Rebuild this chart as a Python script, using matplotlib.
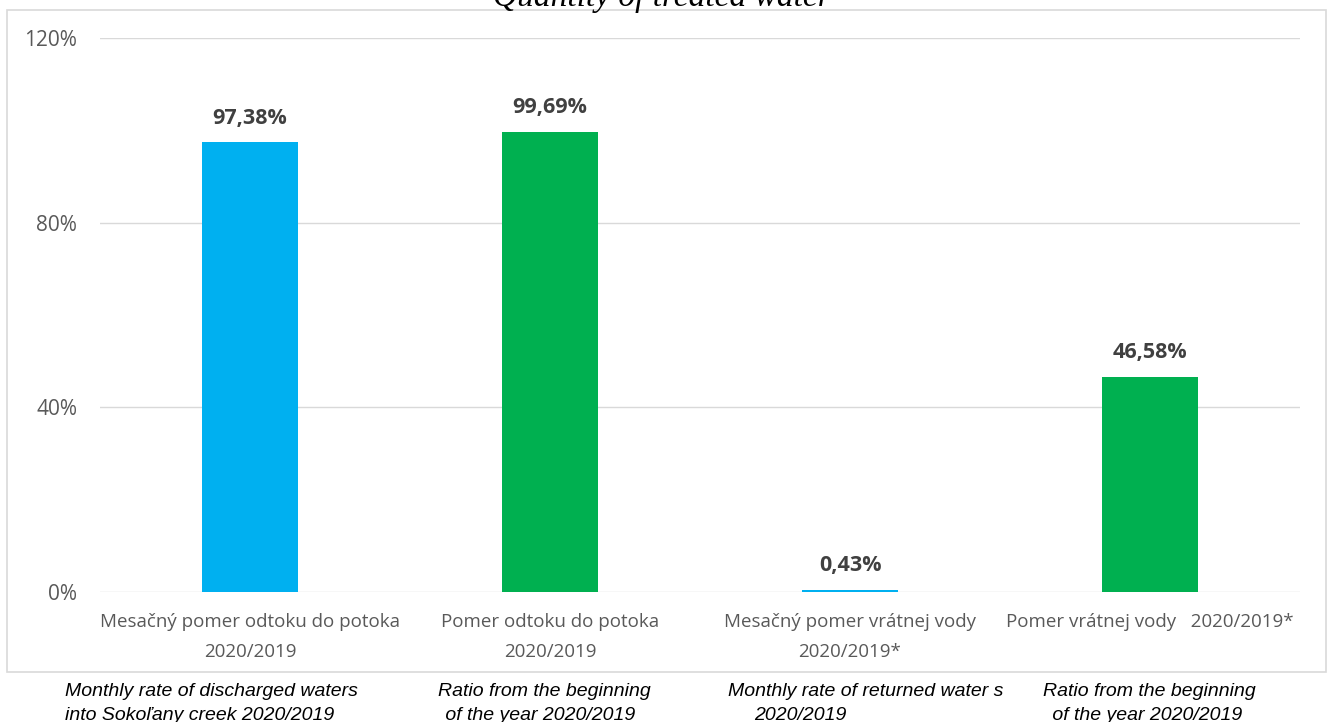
import matplotlib.pyplot as plt
from matplotlib.patches import Rectangle
from matplotlib.ticker import FuncFormatter

# data
categories = ["Mesačný pomer odtoku do potoka\n2020/2019",
              "Pomer odtoku do potoka\n2020/2019",
              "Mesačný pomer vrátnej vody\n2020/2019*",
              "Pomer vrátnej vody   2020/2019*"]
values = [97.38, 99.69, 0.43, 46.58]
value_labels = ["97,38%", "99,69%", "0,43%", "46,58%"]
bar_colors = ["#00B0F0", "#00B050", "#00B0F0", "#00B050"]
y_ticks = [0, 40, 80, 120]
captions = [
    ("Monthly rate of discharged waters", "into Sokoľany creek 2020/2019"),
    ("Ratio from the beginning", " of the year 2020/2019"),
    ("Monthly rate of returned water s", "2020/2019"),
    ("Ratio from the beginning", " of the year 2020/2019"),
]
title = "Quantity of treated water"

W, H = 1331, 722
fig = plt.figure(figsize=(W / 100, H / 100), dpi=100)
fig.patch.set_facecolor("white")

# outer chart border
fig.patches.append(Rectangle((7 / W, 1 - 672 / H), (1326 - 7) / W, (672 - 10) / H,
                             transform=fig.transFigure, fill=False,
                             edgecolor="#D9D9D9", linewidth=1.2))

ax = fig.add_axes([100 / W, 1 - 592 / H, 1200 / W, (592 - 38) / H])
x = list(range(len(categories)))
ax.bar(x, values, width=0.317, color=bar_colors, zorder=3)
ax.set_xlim(-0.5, len(categories) - 0.5)
ax.set_ylim(0, 120)
ax.set_yticks(y_ticks)
ax.yaxis.set_major_formatter(FuncFormatter(lambda v, p: f"{v:.0f}%"))
ax.grid(axis="y", color="#D9D9D9", linewidth=1, zorder=0)
ax.set_axisbelow(True)
for s in ax.spines.values():
    s.set_visible(False)
ax.tick_params(length=0)
ax.tick_params(axis="y", pad=16.5, labelsize=15, labelcolor="#595959")
ax.set_xticks(x)
ax.set_xticklabels(categories, fontsize=13.5, color="#595959", linespacing=1.85)
ax.tick_params(axis="x", pad=15)
for lab in ax.get_xticklabels() + ax.get_yticklabels():
    lab.set_family("Open Sans")

for xi, v, lbl in zip(x, values, value_labels):
    ax.annotate(lbl, (xi, v), xytext=(0, 13.5), textcoords="offset points",
                ha="center", va="baseline", fontsize=15.5, fontweight="bold",
                color="#404040", family="Open Sans")

# title, cut off at the top like the original
fig.text(662 / W, 1 - 6 / H, title, ha="center", va="baseline", fontsize=24,
         style="italic", family="Liberation Serif", color="black")

# english captions below the box
cap_x = [(65, 65), (438, 440), (728, 754), (1043, 1047)]
for (l1, l2), (x1, x2) in zip(captions, cap_x):
    fig.text(x1 / W, 1 - 692 / H, l1, ha="left", va="center", fontsize=14,
             style="italic", family="Liberation Sans")
    fig.text(x2 / W, 1 - 715 / H, l2, ha="left", va="center", fontsize=14,
             style="italic", family="Liberation Sans")

fig.savefig("out.png", dpi=100)
